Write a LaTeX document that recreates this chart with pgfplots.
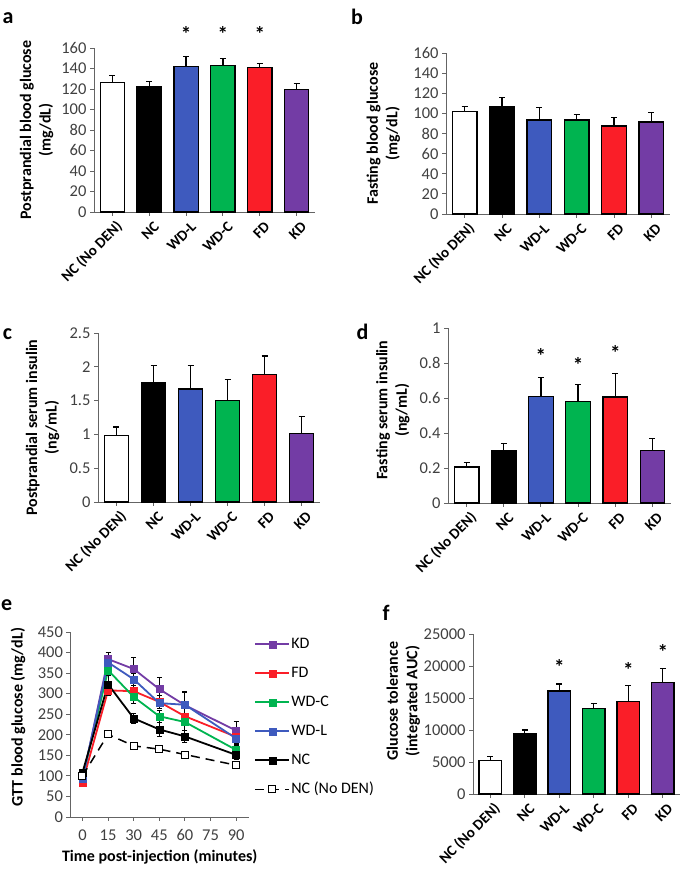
\documentclass[border=0pt]{standalone}
\usepackage{fontspec}
\setmainfont{Carlito}
\usepackage{pgfplots}
\pgfplotsset{compat=1.18}
\definecolor{cWDL}{RGB}{62,90,190}
\definecolor{cWDC}{RGB}{0,180,80}
\definecolor{cFD}{RGB}{250,30,40}
\definecolor{cKD}{RGB}{115,60,165}
\definecolor{axgray}{RGB}{100,100,100}
\definecolor{tickgray}{RGB}{64,64,64}
\newcommand{\lf}{\fontsize{16}{18}\selectfont}
\pgfplotsset{
  base/.style={
    scale only axis, anchor=south west, clip=false,
    axis x line*=bottom, axis y line*=left,
    axis line style={draw=axgray, line width=0.9pt, -},
    tick style={draw=axgray, line width=0.9pt},
    tick align=outside, major tick length=4pt,
    /pgf/number format/assume math mode=true,
    /pgf/number format/1000 sep={},
    scaled y ticks=false,
    yticklabel style={font=\fontsize{16.5}{18}\selectfont, text=tickgray},
    xticklabel style={font=\fontsize{16.5}{18}\selectfont, text=tickgray},
    ylabel style={font=\bfseries\fontsize{16}{19.5}\selectfont, align=center, anchor=center, text=black},
    xlabel style={font=\bfseries\fontsize{16}{19.5}\selectfont, anchor=center},
  },
  barpanel/.style={
    base, bar width=0.66, xmin=-0.5, xmax=5.5, ymin=0,
    xtick={0,...,5},
    xticklabels={NC (No DEN),NC,WD-L,WD-C,FD,KD},
    xticklabel style={rotate=45, anchor=east, yshift=-11pt, xshift=3pt, font=\bfseries\fontsize{15}{17}\selectfont, text=black},
  },
  b/.style={ybar, bar shift=0pt, fill=#1, draw=black, line width=1.3pt,
    error bars/y dir=plus, error bars/y explicit,
    error bars/error bar style={line width=1.2pt, draw=black},
    error bars/error mark options={rotate=90, mark size=3pt, line width=1.2pt, draw=black}},
  star/.style={only marks, mark=text, text mark={\bfseries\fontsize{21}{21}\selectfont *}},
  ln/.style={color=#1, line width=1.8pt, mark=square*, mark size=3.5pt,
    mark options={solid, line width=0.4pt, fill=#1},
    error bars/y dir=both, error bars/y explicit,
    error bars/error bar style={line width=0.9pt, draw=black, solid},
    error bars/error mark options={rotate=90, mark size=2.5pt, line width=0.9pt, draw=black, solid}},
}
\begin{document}
\begin{tikzpicture}
\path[use as bounding box] (0pt,0pt) rectangle (685pt,882pt);
\tikzset{panel/.style={font=\bfseries\fontsize{22}{22}\selectfont, inner sep=0pt}}
\node[panel] at (8pt,863.5pt) {a};
\node[panel] at (357pt,865pt) {b};
\node[panel] at (7.5pt,548pt) {c};
\node[panel] at (362.5pt,550.5pt) {d};
\node[panel] at (6.7pt,277pt) {e};
\node[panel] at (386pt,269.5pt) {f};

% ---- a
\begin{axis}[barpanel, at={(94pt,670pt)}, width=221pt, height=164pt,
  ymax=160, ytick={0,20,...,160},
  ylabel={Postprandial blood glucose\\(mg/dL)},
  ylabel style={at={(axis description cs:-0.26,0.5)}}]
\addplot[b=white] coordinates {(0,126) +- (0,7)};
\addplot[b=black] coordinates {(1,122.5) +- (0,5)};
\addplot[b=cWDL] coordinates {(2,142) +- (0,10)};
\addplot[b=cWDC] coordinates {(3,143) +- (0,7)};
\addplot[b=cFD] coordinates {(4,141) +- (0,4)};
\addplot[b=cKD] coordinates {(5,119.5) +- (0,6)};
\addplot[star] coordinates {(2,174) (3,174) (4,174)};
\end{axis}

% ---- b
\begin{axis}[barpanel, at={(446pt,668pt)}, width=224pt, height=161pt,
  ymax=160, ytick={0,20,...,160},
  ylabel={Fasting blood glucose\\(mg/dL)},
  ylabel style={at={(axis description cs:-0.28,0.5)}}]
\addplot[b=white] coordinates {(0,102) +- (0,4.5)};
\addplot[b=black] coordinates {(1,107) +- (0,8.5)};
\addplot[b=cWDL] coordinates {(2,93.5) +- (0,12.5)};
\addplot[b=cWDC] coordinates {(3,93.5) +- (0,5)};
\addplot[b=cFD] coordinates {(4,87.5) +- (0,8)};
\addplot[b=cKD] coordinates {(5,91.5) +- (0,9.5)};
\end{axis}

% ---- c
\begin{axis}[barpanel, at={(98pt,380pt)}, width=222pt, height=169pt,
  ymax=2.5, ytick={0,0.5,1,1.5,2,2.5},
  ylabel={Postprandial serum insulin\\(ng/mL)},
  ylabel style={at={(axis description cs:-0.25,0.44)}}]
\addplot[b=white] coordinates {(0,0.98) +- (0,0.13)};
\addplot[b=black] coordinates {(1,1.76) +- (0,0.26)};
\addplot[b=cWDL] coordinates {(2,1.67) +- (0,0.35)};
\addplot[b=cWDC] coordinates {(3,1.50) +- (0,0.31)};
\addplot[b=cFD] coordinates {(4,1.89) +- (0,0.27)};
\addplot[b=cKD] coordinates {(5,1.01) +- (0,0.26)};
\end{axis}

% ---- d
\begin{axis}[barpanel, at={(448pt,379pt)}, width=223pt, height=175pt,
  ymax=1, ytick={0,0.2,0.4,0.6,0.8,1},
  ylabel={Fasting serum insulin\\(ng/mL)},
  ylabel style={at={(axis description cs:-0.247,0.53)}}]
\addplot[b=white] coordinates {(0,0.205) +- (0,0.027)};
\addplot[b=black] coordinates {(1,0.30) +- (0,0.04)};
\addplot[b=cWDL] coordinates {(2,0.61) +- (0,0.105)};
\addplot[b=cWDC] coordinates {(3,0.58) +- (0,0.095)};
\addplot[b=cFD] coordinates {(4,0.605) +- (0,0.135)};
\addplot[b=cKD] coordinates {(5,0.30) +- (0,0.067)};
\addplot[star] coordinates {(2,0.84) (3,0.79) (4,0.86)};
\end{axis}

% ---- e
\begin{axis}[base, at={(70.5pt,65pt)}, width=178.5pt, height=185pt,
  xmin=-7, xmax=97.5, ymin=0, ymax=450,
  xtick={0,15,...,90}, ytick={0,50,...,450},
  xticklabel style={yshift=-5pt},
  ylabel={GTT blood glucose (mg/dL)},
  ylabel style={at={(axis description cs:-0.294,0.54)}},
  xlabel={Time post-injection (minutes)},
  xlabel style={at={(axis description cs:0.5,-0.216)}},
  legend style={at={(axis description cs:1.03,0.975)}, anchor=north west, draw=none, fill=none,
    row sep=14pt, inner sep=0pt,
    nodes={inner sep=1pt, text height=11pt, text depth=2pt}},
  legend cell align=left,
  legend image code/.code={\draw[mark repeat=2,mark phase=2,#1] plot coordinates {(0pt,0pt)(17pt,0pt)(34pt,0pt)};},
  ]
\addplot[ln=cKD] coordinates {(0,90) +- (0,4) (15,384) +- (0,17) (30,360) +- (0,27) (45,311) +- (0,29) (60,272) +- (0,33) (90,210) +- (0,23)};
\addlegendentry{\lf KD}
\addplot[ln=cFD] coordinates {(0,84) +- (0,4) (15,308) +- (0,12) (30,306) +- (0,20) (45,280) +- (0,15) (60,245) +- (0,20) (90,195) +- (0,15)};
\addlegendentry{\lf FD}
\addplot[ln=cWDC] coordinates {(0,95) +- (0,4) (15,357) +- (0,12) (30,292) +- (0,17) (45,245) +- (0,15) (60,231) +- (0,20) (90,163) +- (0,10)};
\addlegendentry{\lf WD-C}
\addplot[ln=cWDL] coordinates {(0,92) +- (0,4) (15,376) +- (0,10) (30,335) +- (0,15) (45,277) +- (0,12) (60,273) +- (0,30) (90,191) +- (0,15)};
\addlegendentry{\lf WD-L}
\addplot[ln=black] coordinates {(0,108) +- (0,4) (15,323) +- (0,28) (30,240) +- (0,12) (45,213) +- (0,16) (60,196) +- (0,15) (90,151) +- (0,10)};
\addlegendentry{\lf NC}
\addplot[black, line width=1.5pt, dash pattern=on 9pt off 6pt, mark=square*, mark size=3.5pt,
  mark options={solid, fill=white, line width=1pt},
  error bars/y dir=both, error bars/y explicit,
  error bars/error bar style={line width=0.9pt, draw=black, solid},
  error bars/error mark options={rotate=90, mark size=2.5pt, line width=0.9pt, draw=black, solid}]
  coordinates {(0,100) +- (0,4) (15,201) +- (0,8) (30,173) +- (0,6) (45,165) +- (0,6) (60,152) +- (0,6) (90,126) +- (0,6)};
\addlegendentry{\lf NC (No DEN)}
\end{axis}

% ---- f
\begin{axis}[barpanel, at={(473pt,88pt)}, width=207pt, height=160pt,
  ymax=25000, ytick={0,5000,...,25000},
  ylabel={Glucose tolerance\\(integrated AUC)},
  ylabel style={at={(axis description cs:-0.336,0.58)}}]
\addplot[b=white] coordinates {(0,5200) +- (0,650)};
\addplot[b=black] coordinates {(1,9500) +- (0,500)};
\addplot[b=cWDL] coordinates {(2,16100) +- (0,1100)};
\addplot[b=cWDC] coordinates {(3,13400) +- (0,800)};
\addplot[b=cFD] coordinates {(4,14500) +- (0,2400)};
\addplot[b=cKD] coordinates {(5,17450) +- (0,2150)};
\addplot[star] coordinates {(2,19800) (4,19400) (5,22250)};
\end{axis}
\end{tikzpicture}
\end{document}
